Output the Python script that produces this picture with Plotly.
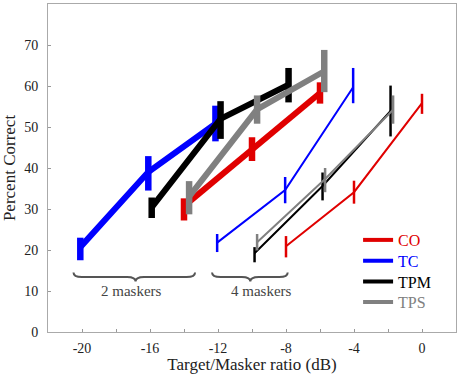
import plotly.graph_objects as go

# ---- data (2 maskers: thick lines; 4 maskers: thin lines) ----
groups = ["CO", "TC", "TPM", "TPS"]
colors = {"CO": "#e00000", "TC": "#0000ff", "TPM": "#000000", "TPS": "#808080"}

x2 = {"CO": [-14, -10, -6], "TC": [-20.1, -16.1, -12.15],
      "TPM": [-15.9, -11.85, -7.85], "TPS": [-13.7, -9.7, -5.75]}
y2 = {"CO": [30.7, 44.6, 58.3], "TC": [20.7, 39.0, 50.8],
      "TPM": [30.4, 52.0, 60.3], "TPS": [33.0, 54.3, 63.6]}
hi2 = {"CO": [32.6, 47.5, 60.9], "TC": [23.0, 42.9, 55.2],
       "TPM": [32.8, 56.3, 64.4], "TPS": [36.8, 57.7, 68.8]}
lo2 = {"CO": [27.2, 41.7, 55.7], "TC": [17.5, 34.5, 46.5],
       "TPM": [27.8, 47.1, 56.0], "TPS": [28.7, 50.8, 58.5]}

x4 = {"CO": [-8, -4, 0], "TC": [-12.05, -8.05, -4.05],
      "TPM": [-9.85, -5.85, -1.85], "TPS": [-9.7, -5.7, -1.7]}
y4 = {"CO": [20.9, 34.1, 55.8], "TC": [21.8, 34.6, 59.7],
      "TPM": [19.2, 35.6, 53.9], "TPS": [21.9, 37.3, 54.2]}
hi4 = {"CO": [23.4, 36.9, 58.1], "TC": [23.9, 37.8, 64.4],
       "TPM": [20.7, 38.9, 60.1], "TPS": [23.9, 40.0, 57.7]}
lo4 = {"CO": [18.2, 31.3, 53.2], "TC": [19.5, 31.4, 55.8],
       "TPM": [17.0, 32.1, 47.7], "TPS": [19.9, 34.1, 50.8]}

xticks = [-20, -16, -12, -8, -4, 0]
xticktext = ["-20", "-16", "-12", "-8", "-4", "0"]
yticks = [0, 10, 20, 30, 40, 50, 60, 70]

FONT = "Liberation Serif"

fig = go.Figure()

def add_series(xs, ys, his, los, width, barw):
    for g in groups:
        up = [h - y for h, y in zip(his[g], ys[g])]
        dn = [y - l for l, y in zip(los[g], ys[g])]
        fig.add_trace(go.Scatter(
            x=xs[g], y=ys[g], mode="lines", showlegend=False,
            line=dict(color=colors[g], width=width),
            error_y=dict(type="data", symmetric=False, array=up, arrayminus=dn,
                         color=colors[g], thickness=barw, width=0),
        ))

add_series(x4, y4, hi4, lo4, 2, 2.5)
add_series(x2, y2, hi2, lo2, 6, 6.5)

# legend entries: one small legend per entry for exact spacing
legend_names = ["legend", "legend2", "legend3", "legend4"]
legend_y = [0.2805, 0.2170, 0.1540, 0.0910]
for g, ln in zip(groups, legend_names):
    fig.add_trace(go.Scatter(
        x=[None], y=[None], mode="lines", legend=ln,
        name=f"<span style='color:{colors[g]}'>{g}</span>",
        line=dict(color=colors[g], width=4),
    ))

# braces
def brace(x0, x1, xm, ytop, ytip):
    ymid = (ytop + ytip) / 2
    d = 0.5
    return (f"M {x0},{ytop} Q {x0},{ymid} {x0+d},{ymid} L {xm-d},{ymid} "
            f"Q {xm},{ymid} {xm},{ytip} Q {xm},{ymid} {xm+d},{ymid} "
            f"L {x1-d},{ymid} Q {x1},{ymid} {x1},{ytop}")

for (x0, x1, xm, label, xl) in [(-20.5, -13.35, -16.85, "2 maskers", -17.1),
                                (-12.35, -7.9, -10.1, "4 maskers", -9.45)]:
    fig.add_shape(type="path", xref="x", yref="y",
                  path=brace(x0, x1, xm, 14.5, 12.3),
                  line=dict(color="#555555", width=2))
    fig.add_annotation(x=xl, y=9.9, xref="x", yref="y", text=label,
                       showarrow=False, font=dict(family=FONT, size=15, color="#444444"))

legend_common = dict(xanchor="left", yanchor="middle", bgcolor="rgba(0,0,0,0)",
                     font=dict(family=FONT, size=16), itemwidth=30)

fig.update_layout(
    width=459, height=374,
    margin=dict(l=48, r=3, t=4, b=42, autoexpand=False),
    paper_bgcolor="white", plot_bgcolor="white",
    font=dict(family=FONT, size=14, color="#222222"),
    showlegend=True,
    xaxis=dict(range=[-22, 2], tickvals=xticks, ticktext=xticktext,
               ticks="inside", ticklen=3,
               tickcolor="#999999", showline=True, linecolor="#aaaaaa",
               linewidth=1, mirror=True, showgrid=False, zeroline=False,
               minor=dict(dtick=2, ticks="inside", ticklen=3, tickcolor="#999999"),
               ticklabelstandoff=3,
               title=dict(text="Target/Masker ratio (dB)", font=dict(size=17), standoff=3)),
    yaxis=dict(range=[0, 80], tickvals=yticks, ticks="inside", ticklen=3,
               tickcolor="#999999", showline=True, linecolor="#aaaaaa",
               linewidth=1, mirror=True, showgrid=False, zeroline=False,
               ticklabelstandoff=6,
               title=dict(text="Percent Correct", font=dict(size=17), standoff=5)),
)
for ln, ly in zip(legend_names, legend_y):
    fig.update_layout({ln: dict(x=0.76, y=ly, **legend_common)})

fig.write_html("out.html", post_script="document.body.style.margin='0';",
               config={"displayModeBar": False})
